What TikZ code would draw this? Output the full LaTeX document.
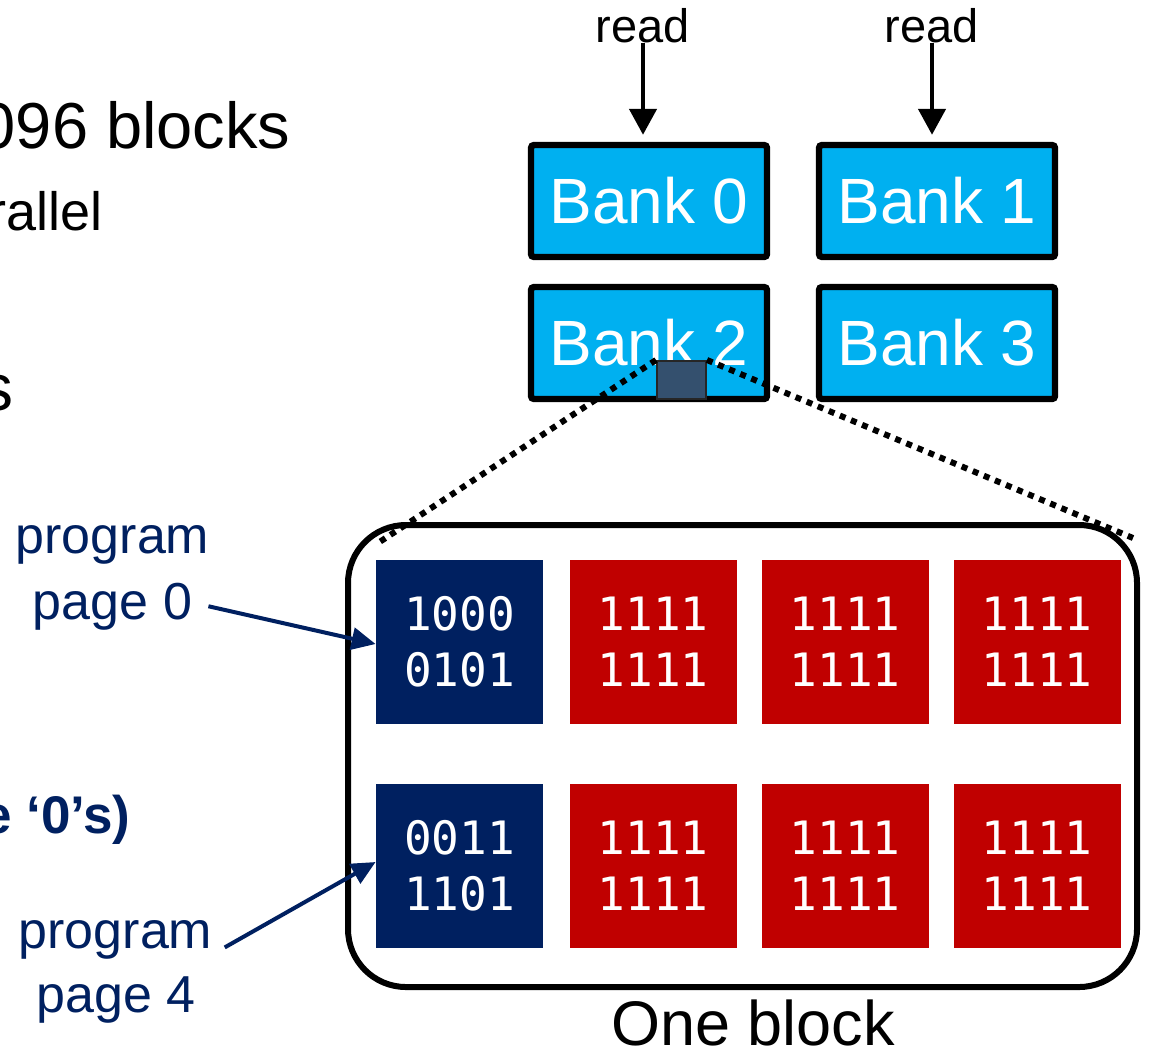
\documentclass[tikz,border=0pt]{standalone}
\usepackage{fontspec}
\setmainfont{Liberation Sans}
\newfontfamily\bitfont{DejaVu Sans Mono}
\usetikzlibrary{arrows.meta}
\definecolor{bankcyan}{HTML}{00B0F0}
\definecolor{pgnavy}{HTML}{002060}
\definecolor{pgred}{HTML}{C00000}
\definecolor{cellslate}{HTML}{34506E}
\tikzset{
  bank/.style={draw=black,line width=3.2pt,fill=bankcyan,rounded corners=1.5pt,
    minimum width=118pt,minimum height=56pt,inner sep=0pt,text=white,
    font=\fontsize{32}{38}\selectfont},
  flashpg/.style={minimum width=83.5pt,minimum height=82pt,inner sep=0pt,
    text=white,align=center,font=\bitfont\fontsize{23}{28}\selectfont},
  lbl/.style={inner sep=0pt,anchor=base},
  readarr/.style={-{Triangle[length=13pt,width=13.5pt]},line width=2.3pt},
  progarr/.style={-{Triangle[length=12pt,width=11pt]},line width=2pt,draw=pgnavy},
}

\begin{document}
\begin{tikzpicture}[x=0.5pt,y=-0.5pt]
\useasboundingbox (0,0) rectangle (1159,1056);

% text on the left, cut by the frame
\node[lbl,anchor=base east,font=\fontsize{32.5}{39}\selectfont] (t1) at (291,148) {096 blocks};
\node[lbl,anchor=base east,font=\fontsize{27}{33}\selectfont] (t2) at (103,230) {rallel};
\node[lbl,anchor=base east,font=\fontsize{33}{40}\selectfont] (t3) at (14,410) {s};
\node[lbl,anchor=base east,text=pgnavy,font=\bfseries\fontsize{26.5}{32}\selectfont] (t4) at (131,833) {e ‘0’s)};

% banks
\node[bank] (b0) at (649,201) {Bank 0};
\node[bank] (b1) at (937,201) {Bank 1};
\node[bank] (b2) at (649,343) {Bank 2};
\node[bank] (b3) at (937,343) {Bank 3};

\node[lbl,font=\fontsize{23.5}{28}\selectfont] (r0) at (643,42) {read};
\node[lbl,font=\fontsize{23.5}{28}\selectfont] (r1) at (932,42) {read};
\draw[readarr,shorten >=3.5pt] (r0.south) -- (r0.south |- b0.north);
\draw[readarr,shorten >=3.5pt] (r1.south) -- (r1.south |- b1.north);

\node[draw=black!85,line width=1pt,fill=cellslate,minimum width=24.5pt,
  minimum height=19pt,inner sep=0pt] (cell) at (681.5,380) {};

% one block
\node[draw,line width=3pt,rounded corners=29pt,minimum width=394.5pt,
  minimum height=231pt] (blk) at (742.5,756) {};
\coordinate (cl) at (378,543);
\coordinate (cr) at (1133,538);
\draw[line width=3pt,dash pattern=on 3pt off 3pt] (cell.north west) -- (cl) (cell.north east) -- (cr);

\node[flashpg,fill=pgnavy] (p0) at (459.5,642) {1000\\0101};
\node[flashpg,fill=pgred] (p1) at (653,642) {1111\\1111};
\node[flashpg,fill=pgred] (p2) at (845,642) {1111\\1111};
\node[flashpg,fill=pgred] (p3) at (1037,642) {1111\\1111};
\node[flashpg,fill=pgnavy] (p4) at (459.5,866) {0011\\1101};
\node[flashpg,fill=pgred] (p5) at (653,866) {1111\\1111};
\node[flashpg,fill=pgred] (p6) at (845,866) {1111\\1111};
\node[flashpg,fill=pgred] (p7) at (1037,866) {1111\\1111};

\node[lbl,font=\fontsize{31.5}{38}\selectfont] (ob) at (753,1045) {One block};

% program labels
\node[lbl,text=pgnavy,font=\fontsize{26}{32}\selectfont] (lp0a) at (112.5,553) {program};
\node[lbl,text=pgnavy,font=\fontsize{26}{32}\selectfont] (lp0b) at (112.5,619) {page 0};
\node[lbl,text=pgnavy,font=\fontsize{26}{32}\selectfont] (lp4a) at (115.5,948) {program};
\node[lbl,text=pgnavy,font=\fontsize{26}{32}\selectfont] (lp4b) at (116,1012) {page 4};
\draw[progarr] ([xshift=8pt]lp0b.east) -- ([yshift=-1pt]p0.west);
\draw[progarr] ([xshift=6pt,yshift=-4pt]lp4a.east) -- ([yshift=2pt]p4.west);

\end{tikzpicture}
\end{document}
